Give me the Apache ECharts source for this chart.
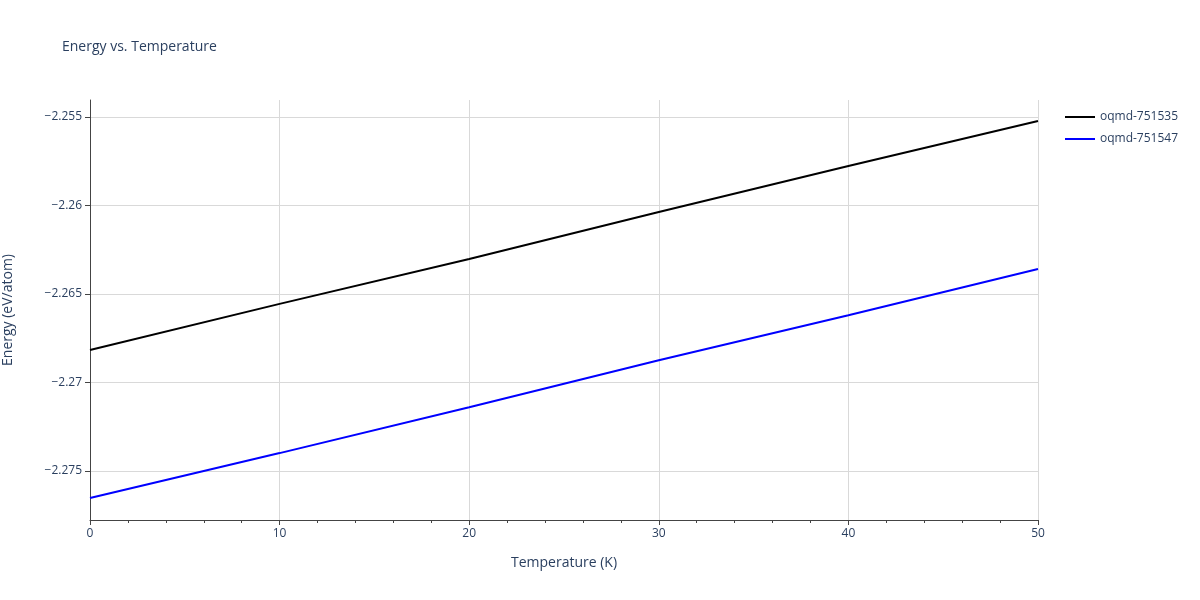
<!DOCTYPE html>
<html><head><meta charset="utf-8">
<script src="https://cdn.jsdelivr.net/npm/echarts@6/dist/echarts.min.js"></script>
<style>html,body{margin:0;padding:0;background:#fff}#c{width:1200px;height:600px}</style>
</head><body><div id="c"></div>
<script>
const temps = [0, 10, 20, 30, 40, 50];
const seriesNames = ['oqmd-751535', 'oqmd-751547'];
const energyA = [-2.26816, -2.26556, -2.26302, -2.26037, -2.25777, -2.25523];
const energyB = [-2.27653, -2.27399, -2.2714, -2.26874, -2.2662, -2.26359];
const yTicks = [-2.275, -2.27, -2.265, -2.26, -2.255];
const colors = ['#000000', '#0000ff'];

const chart = echarts.init(document.getElementById('c'));
const font = 'Open Sans, sans-serif';
const axisCommon = {
  axisLine: {show: true, onZero: false, lineStyle: {color: '#444', width: 1}},
  axisTick: {show: true, inside: false, length: 5, lineStyle: {color: '#444'}},
  minorTick: {show: true, splitNumber: 5, length: 3, lineStyle: {color: '#444'}},
  splitLine: {show: true, lineStyle: {color: '#d9d9d9'}},
  axisLabel: {color: '#2a3f5f', fontFamily: font, fontSize: 12},
  nameTextStyle: {color: '#2a3f5f', fontFamily: font, fontSize: 14}
};
chart.setOption({
  animation: false,
  title: {text: 'Energy vs. Temperature', left: 57, top: 35,
    textStyle: {color: '#2a3f5f', fontFamily: font, fontSize: 14, fontWeight: 'normal'}},
  legend: {orient: 'vertical', left: 1060, top: 106, itemWidth: 30, itemHeight: 2, itemGap: 10,
    icon: 'rect', textStyle: {color: '#2a3f5f', fontFamily: font, fontSize: 12}},
  grid: {left: 90, right: 162, top: 100, bottom: 80, containLabel: false, outerBoundsMode: 'none'},
  xAxis: Object.assign({}, axisCommon, {
    type: 'value', min: 0, max: 50, interval: 10,
    name: 'Temperature (K)', nameLocation: 'middle', nameGap: 36
  }),
  yAxis: Object.assign({}, axisCommon, {
    type: 'value', min: -2.27777, max: -2.25404,
    name: 'Energy (eV/atom)', nameLocation: 'middle', nameGap: 75,
    axisTick: {show: true, inside: false, length: 5, lineStyle: {color: '#444'}, customValues: yTicks},
    minorTick: {show: false},
    axisLabel: {color: '#2a3f5f', fontFamily: font, fontSize: 12, customValues: yTicks,
      formatter: v => String(Math.round(v * 1000) / 1000).replace('-', '\u2212')},
    splitLine: {show: true, lineStyle: {color: '#d9d9d9'}}
  }),
  series: [
    {name: seriesNames[0], type: 'line', showSymbol: false, color: colors[0],
     lineStyle: {width: 2}, data: temps.map((t, i) => [t, energyA[i]])},
    {name: seriesNames[1], type: 'line', showSymbol: false, color: colors[1],
     lineStyle: {width: 2}, data: temps.map((t, i) => [t, energyB[i]])}
  ]
});
</script></body></html>
